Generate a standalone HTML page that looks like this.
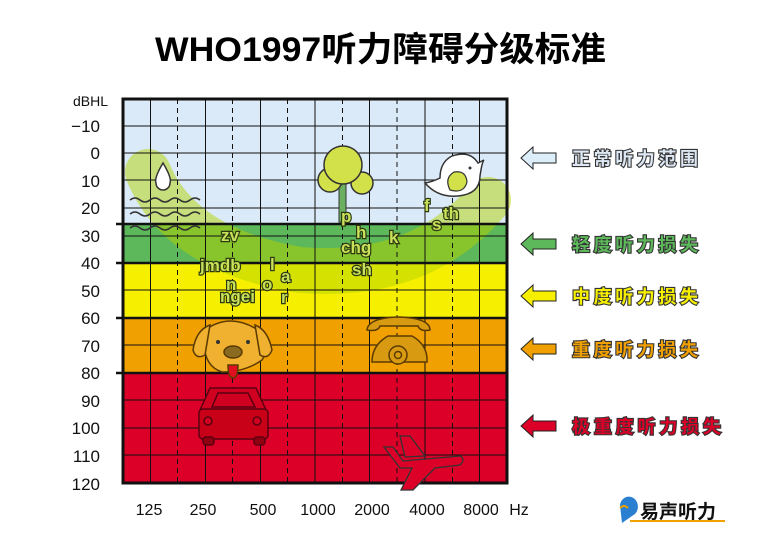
<!DOCTYPE html>
<html><head><meta charset="utf-8"><style>
html,body{margin:0;padding:0;background:#fff;}
svg{display:block;}
.t{font-family:"Liberation Sans","Noto Sans CJK SC",sans-serif;}
.lab{font-family:"Liberation Sans","Noto Sans CJK SC",sans-serif;font-weight:bold;font-size:18px;stroke:#333;stroke-width:2.2px;paint-order:stroke;}
.ph{font-family:"Liberation Sans",sans-serif;font-weight:bold;font-size:17px;stroke:#2d3a10;stroke-width:2.4px;paint-order:stroke;}
</style></head><body>
<svg width="760" height="540" viewBox="0 0 760 540" xmlns="http://www.w3.org/2000/svg">
<text class="t" x="155" y="61" font-size="34" font-weight="bold" textLength="451" lengthAdjust="spacingAndGlyphs">WHO1997听力障碍分级标准</text>
<!-- bands -->
<rect x="123" y="99" width="384" height="125" fill="#dbeaf8"/>
<rect x="123" y="224" width="384" height="39" fill="#5cb85a"/>
<rect x="123" y="263" width="384" height="55" fill="#f6f000"/>
<rect x="123" y="318" width="384" height="55" fill="#f0a000"/>
<rect x="123" y="373" width="384" height="110" fill="#dc0028"/>
<!-- banana -->
<path d="M148,172 Q180,250 300,270 Q420,280 488,200" fill="none" stroke="rgba(180,210,0,0.5)" stroke-width="46" stroke-linecap="round"/>
<!-- grid -->
<g stroke="#111" stroke-width="1">
<line x1="123" y1="126" x2="507" y2="126"/><line x1="123" y1="153" x2="507" y2="153"/>
<line x1="123" y1="180" x2="507" y2="180"/><line x1="123" y1="208" x2="507" y2="208"/>
<line x1="123" y1="236" x2="507" y2="236"/><line x1="123" y1="290" x2="507" y2="290"/>
<line x1="123" y1="345" x2="507" y2="345"/><line x1="123" y1="400" x2="507" y2="400"/>
<line x1="123" y1="428" x2="507" y2="428"/><line x1="123" y1="455" x2="507" y2="455"/>
<line x1="150.5" y1="99" x2="150.5" y2="483"/><line x1="205.5" y1="99" x2="205.5" y2="483"/>
<line x1="260.5" y1="99" x2="260.5" y2="483"/><line x1="315" y1="99" x2="315" y2="483"/>
<line x1="369.5" y1="99" x2="369.5" y2="483"/><line x1="425" y1="99" x2="425" y2="483"/>
<line x1="479.5" y1="99" x2="479.5" y2="483"/>
</g>
<g stroke="#111" stroke-width="1" stroke-dasharray="5,4">
<line x1="177.5" y1="99" x2="177.5" y2="483"/><line x1="232.5" y1="99" x2="232.5" y2="483"/>
<line x1="287.5" y1="99" x2="287.5" y2="483"/><line x1="342.5" y1="99" x2="342.5" y2="483"/>
<line x1="397" y1="99" x2="397" y2="483"/><line x1="452.5" y1="99" x2="452.5" y2="483"/>
</g>
<g stroke="#111" stroke-width="2.5">
<line x1="116" y1="224" x2="507" y2="224"/><line x1="116" y1="263" x2="507" y2="263"/>
<line x1="116" y1="318" x2="507" y2="318"/><line x1="116" y1="373" x2="507" y2="373"/>
</g>
<rect x="123" y="99" width="384" height="384" fill="none" stroke="#111" stroke-width="3"/>
<!-- water -->
<path d="M163,163 Q154,178 156,183 A7,7 0 0 0 170,183 Q172,178 163,163Z" fill="#fff" stroke="#333" stroke-width="1.5"/>
<g fill="none" stroke="#333" stroke-width="1.5">
<path d="M130,200 q5,-4 10,0 t10,0 t10,0 t10,0 t10,0 t10,0 t10,0"/>
<path d="M130,214 q5,-4 10,0 t10,0 t10,0 t10,0 t10,0 t10,0 t10,0"/>
<path d="M130,228 q5,-4 10,0 t10,0 t10,0 t10,0 t10,0 t10,0 t10,0"/>
</g>
<!-- tree -->
<rect x="339" y="184" width="7" height="38" fill="#6bb060" stroke="#333"/>
<g fill="#d2e04a" stroke="#333" stroke-width="1.5">
<circle cx="330" cy="180" r="12"/><circle cx="362" cy="183" r="11"/><circle cx="343" cy="165" r="19"/>
</g>
<!-- bird -->
<path d="M425,183 Q438,198 458,196 Q480,194 480,176 Q482,162 484,160 L478,163 Q470,150 452,156 Q440,162 440,178 Q432,182 425,183Z" fill="#fff" stroke="#333" stroke-width="1.5"/>
<path d="M450,190 Q444,178 454,172 Q466,170 467,182 Q464,194 450,190Z" fill="#d2e04a" stroke="#333" stroke-width="1.2"/>
<circle cx="470" cy="168" r="1.5" fill="#333"/>
<!-- phonemes -->
<g class="ph" fill="#c8e05a">
<text x="221" y="241">zv</text>
<text x="200" y="271">jmdb</text>
<text x="270" y="270">l</text>
<text x="226" y="290">n</text>
<text x="220" y="302">ngei</text>
<text x="262" y="290">o</text>
<text x="281" y="282">a</text>
<text x="281" y="303">r</text>
<text x="341" y="222">p</text>
<text x="356" y="238">h</text>
<text x="341" y="253">chg</text>
<text x="389" y="243">k</text>
<text x="352" y="275">sh</text>
<text x="424" y="211">f</text>
<text x="443" y="219">th</text>
<text x="432" y="230">s</text>
</g>
<!-- dog -->
<g stroke="#5a3a00" stroke-width="1.5">
<path d="M205,330 Q230,312 258,330 Q272,345 262,360 Q245,372 222,372 Q200,365 205,330Z" fill="#f0b030"/>
<path d="M210,325 Q196,330 193,350 Q196,360 205,355Z" fill="#f0b030"/>
<path d="M255,325 Q268,330 272,350 Q268,360 260,355Z" fill="#f0b030"/>
<ellipse cx="233" cy="352" rx="9" ry="6" fill="#8a6a20"/>
<path d="M228,365 Q228,378 233,378 Q238,378 238,365Z" fill="#e01020"/>
</g>
<circle cx="218" cy="342" r="2" fill="#333"/><circle cx="248" cy="342" r="2" fill="#333"/>
<!-- phone -->
<g stroke="#5a3a00" stroke-width="1.5" fill="#d89a10">
<path d="M367,330 Q368,318 398,317 Q430,318 430,330 Q420,332 418,326 L380,326 Q378,332 367,330Z"/>
<path d="M372,362 Q372,345 388,336 L412,336 Q428,345 427,362 Z"/>
<circle cx="398" cy="355" r="9"/>
<circle cx="398" cy="355" r="3.5"/>
</g>
<!-- car -->
<g stroke="#5a0010" stroke-width="1.5">
<path d="M200,410 L210,388 L256,388 L266,410 Z" fill="#d00020"/>
<rect x="199" y="409" width="69" height="30" rx="4" fill="#c80018"/>
<path d="M212,407 L218,393 L248,393 L255,407Z" fill="#d00020"/>
<rect x="203" y="437" width="11" height="8" rx="3" fill="#900010"/>
<rect x="254" y="437" width="11" height="8" rx="3" fill="#900010"/>
<circle cx="208" cy="421" r="4" fill="#d00020"/><circle cx="257" cy="421" r="4" fill="#d00020"/>
</g>
<!-- plane -->
<path d="M384,447 L393,447 L403,461 L460,456 Q466,459 460,465 L435,468 L413,490 L401,490 L412,468 L400,468 Z M405,457 L400,436 L410,436 L425,456Z" fill="#dc0028" stroke="#333" stroke-width="1.3"/>
<!-- y labels -->
<g class="t" font-size="17" fill="#111" text-anchor="end">
<text x="108" y="106" font-size="14">dBHL</text>
<text x="100" y="132">−10</text><text x="100" y="159">0</text><text x="100" y="187">10</text>
<text x="100" y="214">20</text><text x="100" y="242">30</text><text x="100" y="269">40</text>
<text x="100" y="297">50</text><text x="100" y="324">60</text><text x="100" y="352">70</text>
<text x="100" y="379">80</text><text x="100" y="407">90</text><text x="100" y="434">100</text>
<text x="100" y="462">110</text><text x="100" y="490">120</text>
</g>
<g class="t" font-size="16" fill="#111" text-anchor="middle">
<text x="149" y="515">125</text><text x="203" y="515">250</text><text x="263" y="515">500</text>
<text x="318" y="515">1000</text><text x="372" y="515">2000</text><text x="427" y="515">4000</text>
<text x="481" y="515">8000</text><text x="519" y="515">Hz</text>
</g>
<!-- arrows -->
<g stroke="#222" stroke-width="1">
<path d="M521,158 L533,147 L533,153 L556,153 L556,163 L533,163 L533,169 Z" fill="#dceefa"/>
<path d="M521,244 L533,233 L533,239 L556,239 L556,249 L533,249 L533,255 Z" fill="#5cb85a"/>
<path d="M521,296 L533,285 L533,291 L556,291 L556,301 L533,301 L533,307 Z" fill="#f6f000"/>
<path d="M521,349 L533,338 L533,344 L556,344 L556,354 L533,354 L533,360 Z" fill="#f0a000"/>
<path d="M521,426 L533,415 L533,421 L556,421 L556,431 L533,431 L533,437 Z" fill="#dc0028"/>
</g>
<text class="lab" x="572" y="165" fill="#dde8f4" textLength="126">正常听力范围</text>
<text class="lab" x="572" y="251" fill="#5cb85a" textLength="126">轻度听力损失</text>
<text class="lab" x="572" y="303" fill="#f6f000" textLength="126">中度听力损失</text>
<text class="lab" x="572" y="356" fill="#f0a000" textLength="126">重度听力损失</text>
<text class="lab" x="572" y="433" fill="#dc0028" textLength="149">极重度听力损失</text>
<!-- logo -->
<path d="M620,505 A9,10 0 1 1 632,516 L622,523 Z" fill="#2a7fd0"/>
<path d="M620,508 q4,-4 8,0" fill="none" stroke="#f0a000" stroke-width="2"/>
<text x="640" y="518" font-family="Liberation Sans,Noto Sans CJK SC,sans-serif" font-size="19" font-weight="bold" fill="#111">易声听力</text>
<rect x="630" y="520" width="95" height="2" fill="#f0a000"/>
</svg>
</body></html>
